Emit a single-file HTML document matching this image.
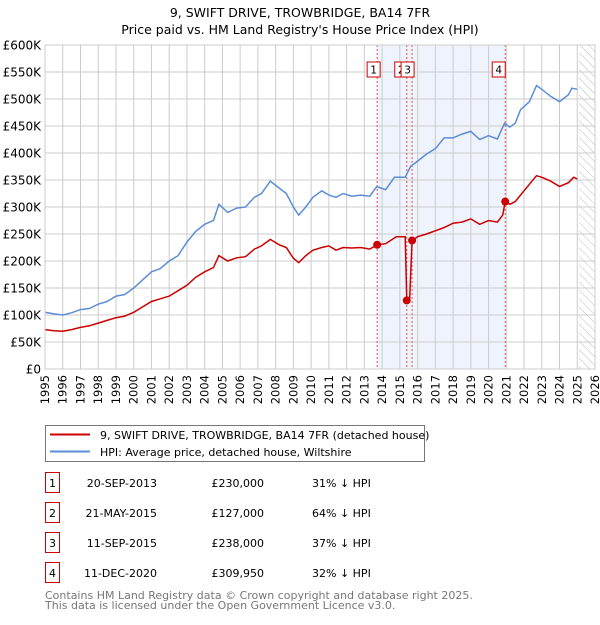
<!DOCTYPE html>
<html><head><meta charset="utf-8"><style>
body{margin:0;background:#fff;font-family:"Liberation Sans","DejaVu Sans",sans-serif;}
svg text{font-family:"DejaVu Sans","Liberation Sans",sans-serif;}
</style></head><body>
<svg id="c" width="600" height="620" viewBox="0 0 600 620" xmlns="http://www.w3.org/2000/svg">
<text x="300" y="17" text-anchor="middle" font-size="12.5">9, SWIFT DRIVE, TROWBRIDGE, BA14 7FR</text>
<text x="300" y="34" text-anchor="middle" font-size="12.5">Price paid vs. HM Land Registry's House Price Index (HPI)</text>
<g id="plot"></g>
<g>
<rect x="45.5" y="425.5" width="379" height="36" fill="#fff" stroke="#777"/>
<line x1="50" y1="434.5" x2="90" y2="434.5" stroke="#cc0000" stroke-width="2"/>
<text x="100" y="439" font-size="11">9, SWIFT DRIVE, TROWBRIDGE, BA14 7FR (detached house)</text>
<line x1="50" y1="451.5" x2="90" y2="451.5" stroke="#5b8ed6" stroke-width="2"/>
<text x="100" y="456" font-size="11">HPI: Average price, detached house, Wiltshire</text>
</g>
<g id="table" font-size="11"></g>
<text x="45" y="599" font-size="11" fill="#777">Contains HM Land Registry data © Crown copyright and database right 2025.</text>
<text x="45" y="609" font-size="11" fill="#777">This data is licensed under the Open Government Licence v3.0.</text>
</svg>
<script>
const years=[1995,1996,1997,1998,1999,2000,2001,2002,2003,2004,2005,2006,2007,2008,2009,2010,2011,2012,2013,2014,2015,2016,2017,2018,2019,2020,2021,2022,2023,2024,2025,2026];
const yTicks=[0,50,100,150,200,250,300,350,400,450,500,550,600];
const hpiT=[1995,1995.5,1996,1996.5,1997,1997.5,1998,1998.5,1999,1999.5,2000,2000.5,2001,2001.5,2002,2002.5,2003,2003.5,2004,2004.5,2004.8,2005.3,2005.8,2006.3,2006.8,2007.2,2007.7,2008.2,2008.6,2009.0,2009.3,2009.7,2010.1,2010.6,2011.0,2011.4,2011.8,2012.3,2012.8,2013.3,2013.7,2014.2,2014.7,2015.3,2015.6,2016.0,2016.5,2017.0,2017.5,2018.0,2018.5,2019.0,2019.5,2020.0,2020.5,2020.9,2021.2,2021.5,2021.8,2022.3,2022.7,2023.0,2023.5,2024.0,2024.5,2024.7,2025.0];
const hpiV=[105,102,100,104,110,112,120,125,135,138,150,165,180,186,200,210,235,255,268,275,305,290,298,300,318,325,348,335,325,300,285,300,318,330,322,318,325,320,322,320,338,332,355,355,375,385,398,408,428,428,435,440,425,432,426,455,448,455,480,495,525,518,505,495,508,520,518];
const redT=[1995,1995.5,1996,1996.5,1997,1997.5,1998,1998.5,1999,1999.5,2000,2000.5,2001,2001.5,2002,2002.5,2003,2003.5,2004,2004.5,2004.8,2005.3,2005.8,2006.3,2006.8,2007.2,2007.7,2008.2,2008.6,2009.0,2009.3,2009.7,2010.1,2010.6,2011.0,2011.4,2011.8,2012.3,2012.8,2013.3,2013.72,2014.2,2014.8,2015.3,2015.39,2015.55,2015.69,2016.0,2016.5,2017.0,2017.5,2018.0,2018.5,2019.0,2019.5,2020.0,2020.5,2020.8,2020.94,2021.2,2021.5,2022.0,2022.7,2023.0,2023.5,2024.0,2024.5,2024.8,2025.0];
const redV=[73,71,70,73,77,80,85,90,95,98,105,115,125,130,135,145,155,170,180,188,210,200,206,208,222,228,240,230,225,205,197,210,220,225,228,220,225,224,225,222,230,232,245,245,127,127,238,245,250,256,262,270,272,278,268,275,272,285,309.95,305,310,330,358,355,348,338,345,355,352];
const saleT=[2013.72,2015.39,2015.69,2020.94];
const saleV=[230,127,238,309.95];
const saleLbl=["1","2","3","4"];
const saleDate=["20-SEP-2013","21-MAY-2015","11-SEP-2015","11-DEC-2020"];
const salePrice=["£230,000","£127,000","£238,000","£309,950"];
const salePct=["31% ↓ HPI","64% ↓ HPI","37% ↓ HPI","32% ↓ HPI"];

const X0=45,X1=595,Y0=369,Y1=45;
const xs=t=>X0+(t-1995)*(X1-X0)/31;
const ys=v=>Y0-v*(Y0-Y1)/600;
const NS="http://www.w3.org/2000/svg";
const plot=document.getElementById('plot');
function mk(tag,a,parent){const e=document.createElementNS(NS,tag);for(const k in a)e.setAttribute(k,a[k]);(parent||plot).appendChild(e);return e;}
let r=mk('rect',{x:xs(saleT[0]),y:Y1,width:xs(saleT[3])-xs(saleT[0]),height:Y0-Y1,fill:'#eef3fc'});


const defs=mk('defs',{});
const pat=mk('pattern',{id:'h',width:6,height:6,patternUnits:'userSpaceOnUse',patternTransform:'rotate(-45)'},defs);
mk('line',{x1:0,y1:0,x2:0,y2:6,stroke:'#aaa','stroke-width':0.8},pat);
let hr=mk('rect',{x:xs(2025.1),y:Y1,width:X1-xs(2025.1),height:Y0-Y1,fill:'url(#h)'});


years.forEach(y=>{const x=xs(y);
 mk('line',{x1:x,y1:Y1,x2:x,y2:Y0,stroke:'#ccc','stroke-width':1});
 const t=mk('text',{x:0,y:0,'font-size':11.5,'text-anchor':'end',transform:`translate(${x+4},${Y0+6}) rotate(-90)`});
 t.textContent=y;
 
 
});
yTicks.forEach(v=>{const y=ys(v);
 mk('line',{x1:X0,y1:y,x2:X1,y2:y,stroke:'#ccc','stroke-width':1});
 const t=mk('text',{x:X0-4,y:y+4.5,'font-size':12,'text-anchor':'end'});
 t.textContent=v===0?'£0':'£'+v+'K';
 
 
});
saleT.forEach(t=>{mk('line',{x1:xs(t),y1:Y1,x2:xs(t),y2:Y0,stroke:'#e05050','stroke-width':1,'stroke-dasharray':'2,2'});});
const pth=(T,V)=>T.map((t,i)=>(i?'L':'M')+xs(t).toFixed(1)+','+ys(V[i]).toFixed(1)).join('');
let hp=mk('path',{d:pth(hpiT,hpiV),fill:'none',stroke:'#5b8ed6','stroke-width':1.5});


let rp=mk('path',{d:pth(redT,redV),fill:'none',stroke:'#cc0000','stroke-width':1.5});


const offs=[10,12,11,13];
saleT.forEach((t,i)=>{
 const c=mk('circle',{cx:xs(t),cy:ys(saleV[i]),r:4,fill:'#cc0000'});
 
 
 const bx=xs(t)-offs[i];
 const g=mk('g',{});
 
 
 mk('rect',{x:bx,y:62,width:13,height:15,fill:'#fff',stroke:'#cc0000','stroke-width':1},g);
 const tx=mk('text',{x:bx+6.5,y:73.5,'font-size':10.5,'text-anchor':'middle'},g);
 tx.textContent=saleLbl[i];
});
mk('rect',{x:X0,y:Y1,width:X1-X0,height:Y0-Y1,fill:'none',stroke:'#ccc'});
const tb=document.getElementById('table');
const rows=[483,513,543,573];
saleLbl.forEach((l,i)=>{const y=rows[i];
 const g=mk('g',{},tb);
 
 
 mk('rect',{x:45.5,y:y-10.5,width:14,height:20,fill:'#fff',stroke:'#cc0000'},g);
 let t=mk('text',{x:52.5,y:y+4,'text-anchor':'middle'},g);t.textContent=l;
 t=mk('text',{x:157,y:y+4,'text-anchor':'end'},g);t.textContent=saleDate[i];
 t=mk('text',{x:264,y:y+4,'text-anchor':'end'},g);t.textContent=salePrice[i];
 t=mk('text',{x:312,y:y+4},g);t.textContent=salePct[i];
});
</script>
</body></html>
